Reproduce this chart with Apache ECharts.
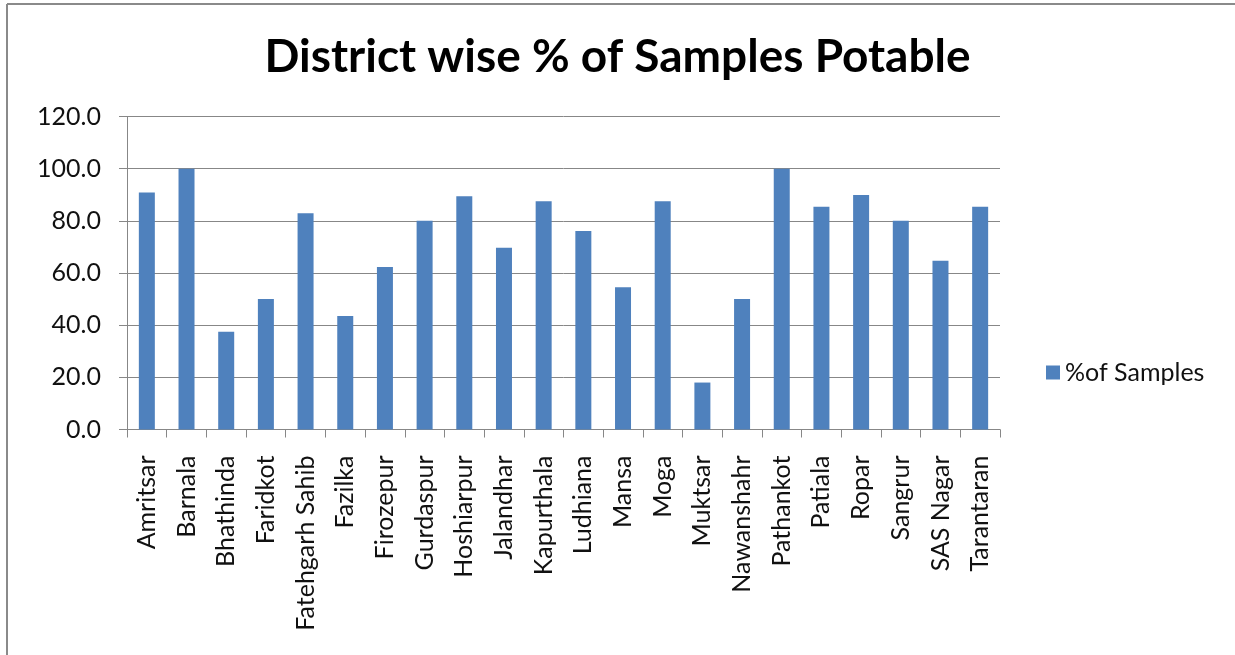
<!DOCTYPE html>
<html>
<head>
<meta charset="utf-8">
<script src="https://cdn.jsdelivr.net/npm/echarts@6/dist/echarts.min.js"></script>
<style>
  html, body { margin: 0; padding: 0; background: #fff; }
  #chart { width: 1235px; height: 655px; }
</style>
</head>
<body>
<div id="chart"></div>
<script>
// District-wise share of potable water samples (%)
const districts = [
  'Amritsar', 'Barnala', 'Bhathinda', 'Faridkot', 'Fatehgarh Sahib', 'Fazilka',
  'Firozepur', 'Gurdaspur', 'Hoshiarpur', 'Jalandhar', 'Kapurthala', 'Ludhiana',
  'Mansa', 'Moga', 'Muktsar', 'Nawanshahr', 'Pathankot', 'Patiala', 'Ropar',
  'Sangrur', 'SAS Nagar', 'Tarantaran'
];
const potablePct = [
  90.9, 100.0, 37.5, 50.0, 82.9, 43.5,
  62.3, 80.0, 89.4, 69.7, 87.5, 76.1,
  54.5, 87.5, 18.0, 50.0, 100.0, 85.4, 89.9,
  80.0, 64.7, 85.4
];
const seriesName = '%of Samples';
const chartTitle = 'District wise % of Samples Potable';

const FONT = 'Lato, "Open Sans", sans-serif';
const GRID_GRAY = '#878787';
const TEXT = '#111';

const chart = echarts.init(document.getElementById('chart'), null, { renderer: 'canvas' });

chart.setOption({
  backgroundColor: '#fff',
  animation: false,
  title: {
    text: chartTitle,
    left: 'center',
    top: 29,
    textStyle: { fontFamily: FONT, fontWeight: 'bold', fontSize: 46, color: '#000' }
  },
  legend: {
    data: [seriesName],
    left: 1041,
    top: 355,
    orient: 'vertical',
    icon: 'rect',
    itemWidth: 14,
    itemHeight: 14,
    itemGap: 10,
    textStyle: { fontFamily: FONT, fontSize: 25, color: TEXT }
  },
  grid: { left: 127, right: 235, top: 116.5, bottom: 225.5, containLabel: false },
  xAxis: {
    type: 'category',
    data: districts,
    boundaryGap: true,
    axisLine: { show: true, lineStyle: { color: GRID_GRAY, width: 1 } },
    axisTick: { show: true, length: 8, alignWithLabel: false, lineStyle: { color: GRID_GRAY } },
    axisLabel: {
      rotate: 90,
      interval: 0,
      margin: 26,
      fontFamily: FONT,
      fontSize: 25,
      color: TEXT
    }
  },
  yAxis: {
    type: 'value',
    min: 0,
    max: 120,
    interval: 20,
    axisLine: { show: true, lineStyle: { color: GRID_GRAY, width: 1 } },
    axisTick: { show: true, length: 8, inside: false, lineStyle: { color: GRID_GRAY } },
    splitLine: { show: true, lineStyle: { color: GRID_GRAY, width: 1 } },
    axisLabel: {
      margin: 26,
      fontFamily: FONT,
      fontSize: 25,
      color: TEXT,
      formatter: v => v.toFixed(1)
    }
  },
  series: [{
    name: seriesName,
    type: 'bar',
    data: potablePct,
    barWidth: 16,
    itemStyle: { color: '#4F81BD' }
  }],
  graphic: [
    // frame lines along the top and left edges
    { type: 'line', shape: { x1: 7, y1: 4, x2: 1235, y2: 4 }, style: { stroke: '#8a8a8a', lineWidth: 2 } },
    { type: 'line', shape: { x1: 7, y1: 4, x2: 7, y2: 655 }, style: { stroke: '#8a8a8a', lineWidth: 2 } }
  ]
});
</script>
</body>
</html>
